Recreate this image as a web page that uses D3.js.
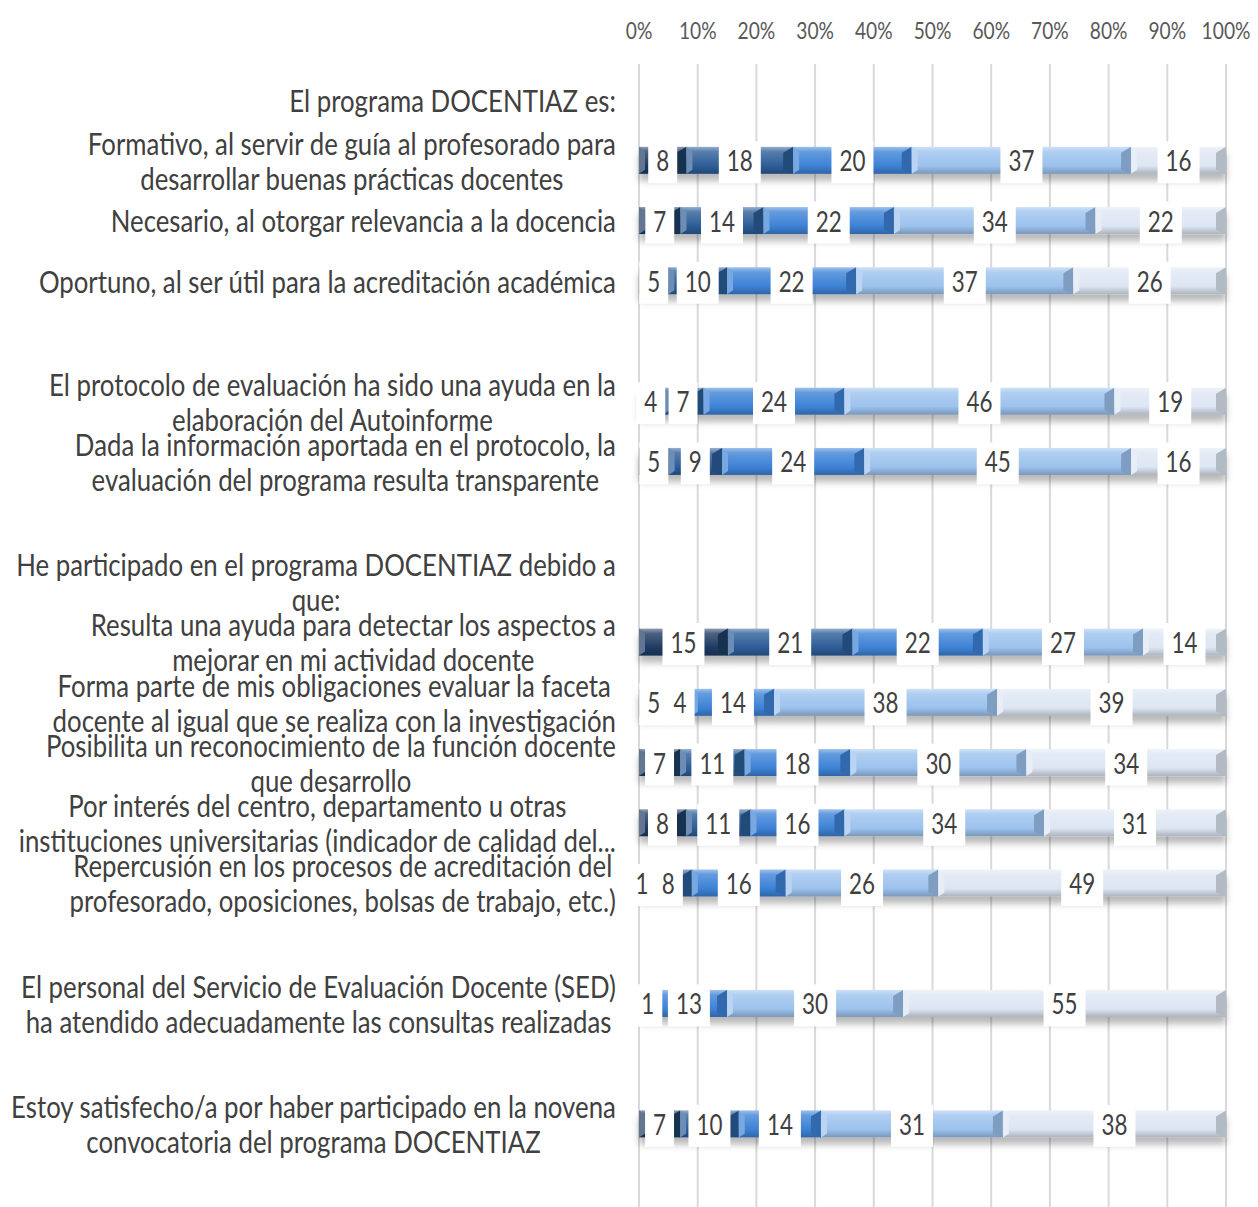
<!DOCTYPE html>
<html>
<head>
<meta charset="utf-8">
<script src="https://cdn.jsdelivr.net/npm/d3@7"></script>
<style>
  html, body { margin: 0; padding: 0; background: #fff; }
  svg { display: block; font-family: Lato, "Open Sans", sans-serif; }
</style>
</head>
<body>
<svg id="chart" width="1258" height="1207"></svg>
<script>
// row labels (empty strings are spacer rows, header rows have no bar)
const categories = [
  'El programa DOCENTIAZ es:',
  'Formativo, al servir de guía al profesorado para\ndesarrollar buenas prácticas docentes',
  'Necesario, al otorgar relevancia a la docencia',
  'Oportuno, al ser útil para la acreditación académica',
  '',
  'El protocolo de evaluación ha sido una ayuda en la\nelaboración del Autoinforme',
  'Dada la información aportada en el protocolo, la\nevaluación del programa resulta transparente',
  '',
  'He participado en el programa DOCENTIAZ debido a\nque:',
  'Resulta una ayuda para detectar los aspectos a\nmejorar en mi actividad docente',
  'Forma parte de mis obligaciones evaluar la faceta\ndocente al igual que se realiza con la investigación',
  'Posibilita un reconocimiento de la función docente\nque desarrollo',
  'Por interés del centro, departamento u otras\ninstituciones universitarias (indicador de calidad del...',
  'Repercusión en los procesos de acreditación del\nprofesorado, oposiciones, bolsas de trabajo, etc.)',
  '',
  'El personal del Servicio de Evaluación Docente (SED)\nha atendido adecuadamente las consultas realizadas',
  '',
  'Estoy satisfecho/a por haber participado en la novena\nconvocatoria del programa DOCENTIAZ',
];

// answer levels 1..5, in %, null where the row has no bar
const level1 = [null, 8, 7, 5, null, 4, 5, null, null, 15, 5, 7, 8, 1, null, 1, null, 7];
const level2 = [null, 18, 14, 10, null, 7, 9, null, null, 21, 4, 11, 11, 8, null, 1, null, 10];
const level3 = [null, 20, 22, 22, null, 24, 24, null, null, 22, 14, 18, 16, 16, null, 13, null, 14];
const level4 = [null, 37, 34, 37, null, 46, 45, null, null, 27, 38, 30, 34, 26, null, 30, null, 31];
const level5 = [null, 16, 22, 26, null, 19, 16, null, null, 14, 39, 34, 31, 49, null, 55, null, 38];

const levelKeys = ['l1', 'l2', 'l3', 'l4', 'l5'];
const levelColors = ['#1f3b62', '#2d5d97', '#3d82d6', '#9cc2ee', '#dde6f3'];
const tickValues = [0, 0.1, 0.2, 0.3, 0.4, 0.5, 0.6, 0.7, 0.8, 0.9, 1];

const rows = categories.map((c, i) => ({
  i,
  l1: level1[i], l2: level2[i], l3: level3[i], l4: level4[i], l5: level5[i],
}));
const barRows = rows.filter((d) => d.l1 !== null);

const svg = d3.select('#chart');
const x = d3.scaleLinear().domain([0, 1]).range([639, 1226]);
const y = d3.scaleBand().domain(d3.range(categories.length)).range([70, 1154]);
const barH = 27;
const sx = 0.8; // the source font is a condensed one
const sxCat = 0.86;

const stacked = d3.stack()
  .keys(levelKeys)
  .offset(d3.stackOffsetExpand)(barRows);

// gradients + shadow
const defs = svg.append('defs');
levelColors.forEach((c, k) => {
  const g = defs.append('linearGradient')
    .attr('id', `grad${k}`)
    .attr('x1', 0).attr('y1', 0).attr('x2', 0).attr('y2', 1);
  g.append('stop').attr('offset', '0%').attr('stop-color', d3.interpolateRgb(c, '#fff')(0.5));
  g.append('stop').attr('offset', '18%').attr('stop-color', d3.interpolateRgb(c, '#fff')(0.2));
  g.append('stop').attr('offset', '70%').attr('stop-color', c);
  g.append('stop').attr('offset', '100%').attr('stop-color', d3.color(c).darker(0.7));
});
defs.append('filter')
  .attr('id', 'shadow')
  .attr('x', '-5%').attr('y', '-50%').attr('width', '110%').attr('height', '250%')
  .append('feDropShadow')
  .attr('dx', 0).attr('dy', 7).attr('stdDeviation', 3.5)
  .attr('flood-color', '#000').attr('flood-opacity', 0.28);

// gridlines
svg.append('g')
  .selectAll('line')
  .data(tickValues)
  .join('line')
  .attr('x1', (d) => x(d)).attr('x2', (d) => x(d))
  .attr('y1', 64).attr('y2', 1207)
  .attr('stroke', '#d9d9d9')
  .attr('stroke-width', 2);

// top axis labels
svg.append('g')
  .selectAll('text')
  .data(tickValues)
  .join('text')
  .attr('transform', (d) => `translate(${x(d)},30) scale(${sx},1)`)
  .attr('text-anchor', 'middle')
  .attr('dominant-baseline', 'central')
  .attr('font-size', 24)
  .attr('fill', '#595959')
  .text(d3.format('.0%'));

// bars
const bars = svg.append('g').attr('filter', 'url(#shadow)');
stacked.forEach((layer, k) => {
  const c = levelColors[k];
  const seg = bars.append('g')
    .selectAll('g')
    .data(layer.filter((d) => d[1] > d[0]))
    .join('g');

  seg.append('rect')
    .attr('x', (d) => x(d[0]))
    .attr('y', (d) => y(d.data.i) + y.bandwidth() / 2 - barH / 2)
    .attr('width', (d) => x(d[1]) - x(d[0]))
    .attr('height', barH)
    .attr('fill', `url(#grad${k})`);

  // bevelled ends
  seg.append('path')
    .attr('fill', d3.color(c).darker(0.6))
    .attr('d', (d) => {
      const x1 = x(d[1]);
      const b = Math.min(10, (x(d[1]) - x(d[0])) / 2);
      const y0 = y(d.data.i) + y.bandwidth() / 2 - barH / 2;
      return `M${x1},${y0}L${x1 - b},${y0 + 6}L${x1 - b},${y0 + barH - 4}L${x1},${y0 + barH}Z`;
    });
  seg.append('path')
    .attr('fill', d3.interpolateRgb(c, '#fff')(0.3))
    .attr('d', (d) => {
      const x0 = x(d[0]);
      const b = Math.min(6, (x(d[1]) - x(d[0])) / 3);
      const y0 = y(d.data.i) + y.bandwidth() / 2 - barH / 2;
      return `M${x0},${y0}L${x0 + b},${y0 + 5}L${x0 + b},${y0 + barH - 4}L${x0},${y0 + barH}Z`;
    });
});

// value labels on white boxes
const labels = svg.append('g');
stacked.forEach((layer, k) => {
  const lab = labels.append('g')
    .selectAll('g')
    .data(layer)
    .join('g')
    .attr('transform', (d) => `translate(${x((d[0] + d[1]) / 2)},${y(d.data.i) + y.bandwidth() / 2})`);
  const box = lab.append('rect').attr('fill', '#fff');
  const txt = lab.append('text')
    .attr('transform', `scale(${sx},1)`)
    .attr('text-anchor', 'middle')
    .attr('dominant-baseline', 'central')
    .attr('font-size', 28)
    .attr('fill', '#404040')
    .text((d) => d.data[levelKeys[k]]);
  txt.each(function () {
    const w = this.getComputedTextLength() * sx;
    d3.select(this.parentNode).select('rect')
      .attr('x', -w / 2 - 8).attr('width', w + 16)
      .attr('y', -19).attr('height', 42);
  });
  box.lower();
});

// category labels, centred block aligned to the right edge
const catG = svg.append('g')
  .selectAll('g')
  .data(rows.filter((d) => categories[d.i] !== ''))
  .join('g');
catG.each(function (d) {
  const g = d3.select(this);
  const lines = categories[d.i].split('\n');
  const t = g.append('text')
    .attr('text-anchor', 'middle')
    .attr('font-size', 30)
    .attr('fill', '#404040');
  const lineH = 35;
  lines.forEach((ln, j) => {
    t.append('tspan')
      .attr('x', 0)
      .attr('y', (j - (lines.length - 1) / 2) * lineH)
      .attr('dominant-baseline', 'central')
      .text(ln);
  });
  const w = d3.max(t.selectAll('tspan').nodes(), (n) => n.getComputedTextLength()) * sxCat;
  g.attr('transform', `translate(${616 - w / 2},${y(d.i) + y.bandwidth() / 2}) scale(${sxCat},1)`);
});
</script>
</body>
</html>
